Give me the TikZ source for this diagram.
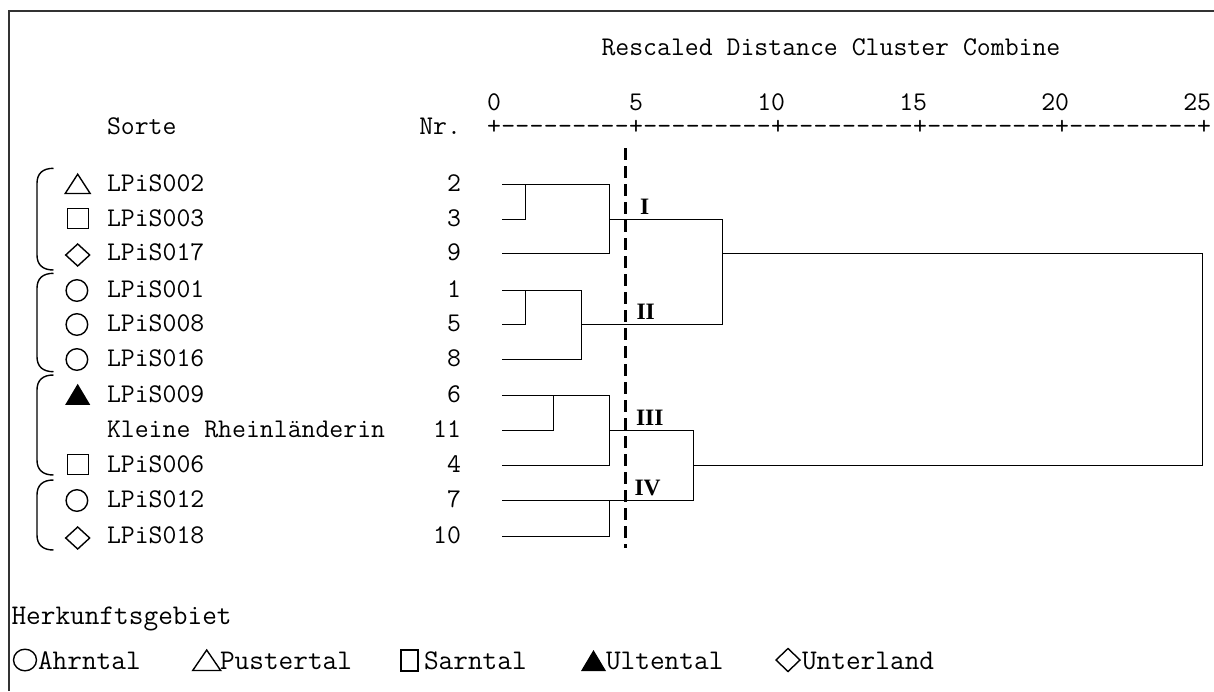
\documentclass[tikz,border=0pt]{standalone}
\usepackage{fontspec}
\newfontfamily\romanfont{Liberation Serif}

\tikzset{
  txt/.style={inner sep=0pt, outer sep=0pt, font=\ttfamily\fontsize{27}{30}\selectfont},
  legtxt/.style={inner sep=0pt, outer sep=0pt, font=\ttfamily\fontsize{28.5}{31}\selectfont},
  roman/.style={inner sep=0pt, outer sep=0pt, font=\romanfont\bfseries\fontsize{23.5}{26}\selectfont},
  tree/.style={line width=1.5pt, line cap=rect},
  sym/.style={line width=1.4pt, line join=miter},
  frameline/.style={line width=1.5pt, draw=black!80},
  cutline/.style={line width=3pt, dash pattern=on 12pt off 6pt},
  bracket/.style={line width=1.4pt},
  pics/opentri/.style={code={\draw[sym] (-12.5,9) -- (12.5,9) -- (0,-10.3) -- cycle;}},
  pics/filltri/.style={code={\fill (-12.5,9.3) -- (12.5,9.3) -- (0,-11.7) -- cycle;}},
  pics/opensq/.style={code={\draw[sym] (-10.5,-11) rectangle (10.5,9);}},
  pics/opendia/.style={code={\draw[sym] (-12,1.5) -- (0,-9.5) -- (12,1.5) -- (0,12.5) -- cycle;}},
  pics/opencirc/.style={code={\draw[sym] (-0.8,0) circle[radius=10.8];}},
  pics/nosym/.style={code={}},
}

\begin{document}
\begin{tikzpicture}[x=1pt,y=-1pt]
\useasboundingbox (0,0) rectangle (1214,691);
\fill[white] (0,0) rectangle (1214,691);

% frame (top and left edges only)
\draw[frameline] (9,691) -- (9,11) -- (1214,11);

% axis caption and scale
\node[txt,anchor=base west] (title) at (601.5,55) {Rescaled Distance Cluster Combine};
\foreach \v/\c in {0/0,5/10,10/20,15/30,20/40,25/50}{
  \node[txt,anchor=base east] (tick\v) at ({494+14.2*\c+7.1},110) {\v};
}
\foreach \c in {0,...,50}{
  \pgfmathtruncatemacro\m{mod(\c,10)}
  \ifnum\m=0
    \node[txt,anchor=base] (ax\c) at ({494+14.2*\c},134) {+};
  \else
    \node[txt,anchor=base] (ax\c) at ({494+14.2*\c},134) {-};
  \fi
}

% column headers
\node[txt,anchor=base west] (sorte) at (107,134) {Sorte};
\node[txt,anchor=base east] (nr) at (461,134) {Nr.};

% rows: symbol, variety name, case number
\foreach \i/\y/\s/\name/\nr in {
  1/184.5/opentri/LPiS002/2,
  2/219.5/opensq/LPiS003/3,
  3/253.5/opendia/LPiS017/9,
  4/290.5/opencirc/LPiS001/1,
  5/324.5/opencirc/LPiS008/5,
  6/359.5/opencirc/LPiS016/8,
  7/395.5/filltri/LPiS009/6,
  8/430.5/nosym/Kleine Rheinländerin/11,
  9/465.5/opensq/LPiS006/4,
  10/500.5/opencirc/LPiS012/7,
  11/536.5/opendia/LPiS018/10}{
  \pic at (77.7,\y) {\s};
  \node[txt,anchor=base west] (name\i) at (107,\y+7) {\name};
  \node[txt,anchor=base east] (nr\i) at (461,\y+7) {\nr};
  \coordinate (leaf\i) at (503,\y);
}

% group brackets
\foreach \t/\b in {168.3/270, 273.3/371.7, 375/475, 480/550}{
  \draw[bracket] (53.5,\t) .. controls (43,\t) and (37,\t+5) .. (37,\t+15)
     -- (37,\b-15) .. controls (37,\b-5) and (43,\b) .. (53.5,\b);
}

% dendrogram, cluster I
\draw[tree] (leaf1) -| (609.5,253.5) -- (leaf3);
\draw[tree] (leaf2) -| (525.5,184.5);
\draw[tree] (609.5,219.5) -- (722.5,219.5);
% cluster II
\draw[tree] (leaf4) -| (581.5,359.5) -- (leaf6);
\draw[tree] (leaf5) -| (525.5,290.5);
\draw[tree] (581.5,324.5) -| (722.5,219.5);
% top-level join
\draw[tree] (722.5,253.5) -| (1202.5,465.5) -- (693.5,465.5);
% cluster III
\draw[tree] (leaf7) -| (609.5,465.5) -- (leaf9);
\draw[tree] (leaf8) -| (553.5,395.5);
\draw[tree] (609.5,430.5) -| (693.5,500.5);
% cluster IV
\draw[tree] (leaf10) -| (609.5,536.5) -- (leaf11);
\draw[tree] (609.5,500.5) -- (693.5,500.5);

% cut line
\draw[cutline] (625.7,148) -- (625.7,548);

% cluster labels
\node[roman,anchor=base west] (cI) at (640,214.3) {I};
\node[roman,anchor=base west] (cII) at (636.5,319) {II};
\node[roman,anchor=base west] (cIII) at (636,425) {III};
\node[roman,anchor=base west] (cIV) at (634.5,495) {IV};

% legend
\node[legtxt,anchor=base west] (legtitle) at (11.5,624) {Herkunftsgebiet};
\draw[sym] (25,660) ellipse[x radius=11.5, y radius=10.8];
\node[legtxt,anchor=base west] (lahrn) at (38,669) {Ahrntal};
\draw[sym] (192.7,670.5) -- (220.7,670.5) -- (206.7,650) -- cycle;
\node[legtxt,anchor=base west] (lpust) at (220,669) {Pustertal};
\draw[sym] (401,650) rectangle (418,671);
\node[legtxt,anchor=base west] (lsarn) at (424,669) {Sarntal};
\fill (581,671) -- (606,671) -- (593.5,650) -- cycle;
\node[legtxt,anchor=base west] (lult) at (606,669) {Ultental};
\draw[sym] (776,660) -- (788,648.5) -- (800,660) -- (788,671.5) -- cycle;
\node[legtxt,anchor=base west] (lunt) at (802,669) {Unterland};
\end{tikzpicture}
\end{document}
